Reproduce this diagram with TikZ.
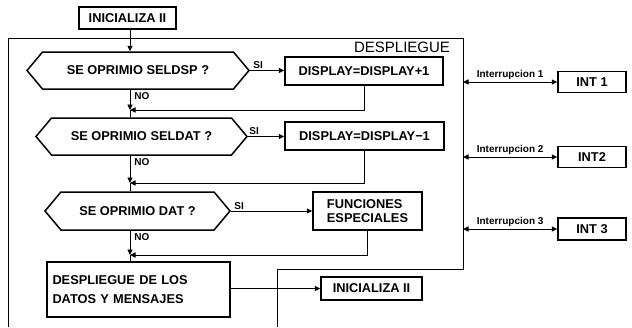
\documentclass[tikz,border=0pt]{standalone}
\usepackage{fontspec}
\setmainfont{Liberation Sans}
\usetikzlibrary{arrows.meta,shapes.symbols,calc}
\begin{document}
\begin{tikzpicture}[x=1pt,y=-1pt,
  txt/.style={font=\bfseries\fontsize{12.8}{14}\selectfont},
  box/.style={draw,line width=1.5pt,txt,inner sep=2pt},
  dec/.style={draw,line width=1.5pt,txt,signal,signal to=west and east,signal pointer angle=100,minimum height=37pt,inner sep=2pt},
  con/.style={line width=0.9pt},
  arr/.style={con,-{Triangle[length=5.5pt,width=5pt]}},
  dbl/.style={con,{Triangle[length=5.5pt,width=5pt]}-{Triangle[length=5.5pt,width=5pt]}},
  lab/.style={font=\bfseries\fontsize{10}{11}\selectfont,inner sep=1pt},
  nolab/.style={lab,pos=0,below right,xshift=3pt,yshift=-1pt},
  small/.style={font=\bfseries\fontsize{10}{11}\selectfont,inner sep=1.5pt},
  frame/.style={line width=0.8pt}]
\path[use as bounding box] (0,0) rectangle (632,327);
% frame
\draw[frame] (8,327) -- (8,38) -- (463,38) -- (463,269) -- (277,269) -- (277,327);
\node[font=\fontsize{15}{16}\selectfont,inner sep=0pt] (tit) at (402,47) {DESPLIEGUE};
% nodes
\node[box,minimum width=97pt,minimum height=22pt] (ini1) at (127.5,18) {INICIALIZA II};
\node[dec,minimum width=222pt] (d1) at (138,70.5) {SE OPRIMIO SELDSP ?};
\node[box,minimum width=158pt,minimum height=28pt] (b1) at (364,71) {DISPLAY=DISPLAY+1};
\node[dec,minimum width=211pt] (d2) at (141.5,136.5) {SE OPRIMIO SELDAT ?};
\node[box,minimum width=159pt,minimum height=28pt] (b2) at (364.5,136) {DISPLAY=DISPLAY−1};
\node[dec,minimum width=185pt,minimum height=38pt] (d3) at (137.5,211) {SE OPRIMIO DAT ?};
\node[box,minimum width=109pt,minimum height=38pt,align=left] (b3) at (367.5,211) {FUNCIONES\\ESPECIALES};
\node[box,minimum width=183pt,minimum height=55pt,align=left,text width=172pt] (d4) at (138.5,289.5) {DESPLIEGUE DE LOS\\[5pt]DATOS Y MENSAJES};
\node[box,minimum width=101pt,minimum height=23pt] (ini2) at (371.5,288.5) {INICIALIZA II};
\node[box,minimum width=68pt,minimum height=21pt] (int1) at (592,82) {INT 1};
\node[box,minimum width=68pt,minimum height=21pt] (int2) at (592,157) {INT2};
\node[box,minimum width=68pt,minimum height=22pt] (int3) at (592,229) {INT 3};
% main line
\coordinate (mx) at (130,0);
\coordinate (j1) at (130,110);
\coordinate (j2) at (130,183);
\coordinate (j3) at (130,255);
\draw[arr] (ini1.south -| mx) -- (d1.north -| mx);
\draw[arr] (d1.south -| mx) -- (j1) node[nolab]{NO};
\draw[con] (j1) -- (d2.north -| mx);
\draw[arr] (d2.south -| mx) -- (j2) node[nolab]{NO};
\draw[con] (j2) -- (d3.north -| mx);
\draw[arr] (d3.south -| mx) -- (j3) node[nolab]{NO};
\draw[con] (j3) -- (d4.north -| mx);
\draw[arr] (b1.south) |- (j1);
\draw[arr] (b2.south) |- (j2);
\draw[arr] (b3.south) |- (j3);
% SI branches
\draw[arr] (d1.east) -- (d1.east -| b1.west) node[lab,pos=0,above right,xshift=2pt]{SI};
\draw[arr] (d2.east) -- (d2.east -| b2.west) node[lab,pos=0,above right]{SI};
\draw[arr] (d3.east) -- (d3.east -| b3.west) node[lab,pos=0,above right,xshift=2pt]{SI};
\draw[arr] (d4.east |- ini2.west) -- (ini2.west);
% interrupts
\coordinate (fr) at (463,0);
\draw[dbl] (fr |- int1.west) -- (int1.west) node[small,midway,above]{Interrupcion 1};
\draw[dbl] (fr |- int2.west) -- (int2.west) node[small,midway,above]{Interrupcion 2};
\draw[dbl] (fr |- int3.west) -- (int3.west) node[small,midway,above]{Interrupcion 3};
\end{tikzpicture}
\end{document}
